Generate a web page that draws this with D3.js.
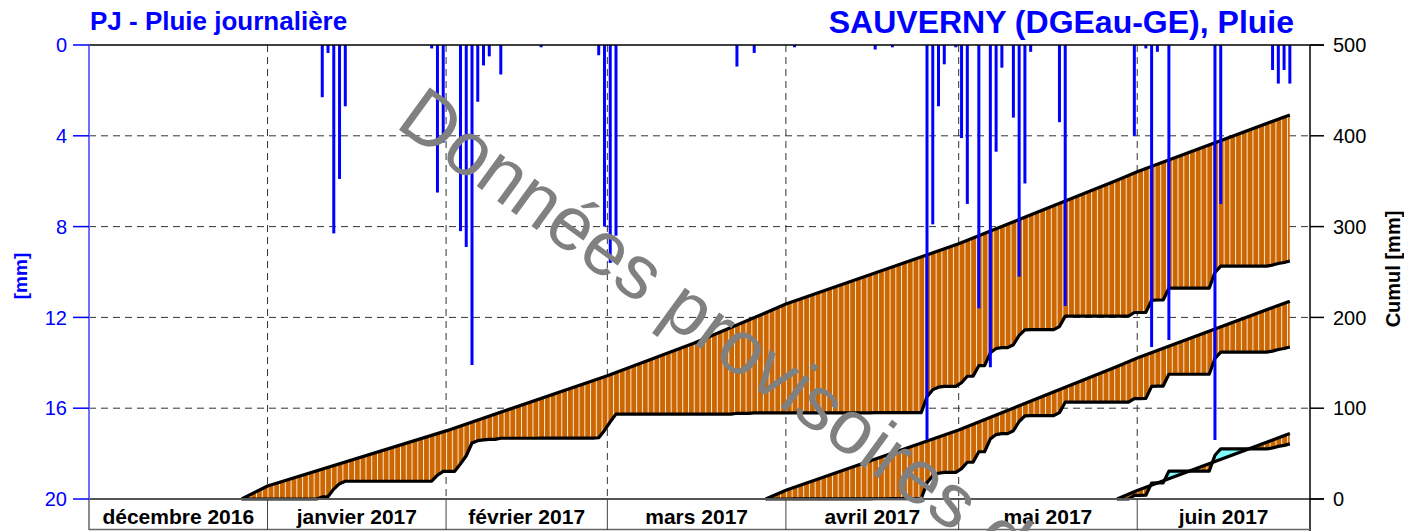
<!DOCTYPE html>
<html>
<head>
<meta charset="utf-8">
<style>
  body { margin: 0; background: #fff; }
  svg { display: block; font-family: "Liberation Sans", Arial, sans-serif; }
  .titre { font-weight: bold; fill: #0000ff; }
  .mois { font-weight: bold; font-size: 21px; fill: #000; }
  .axe-mm { font-size: 20px; fill: #0000ff; }
  .axe-cum { font-size: 20px; fill: #000; }
</style>
</head>
<body>
<div id="chart"></div>
<script src="https://cdn.jsdelivr.net/npm/d3@7"></script>
<script>
const width = 1404, height = 531;
const plot = {left: 89, right: 1310, top: 45, bottom: 499};

// pluie journaliere (mm)
const rainDates = [
  "2017-01-10", "2017-01-11", "2017-01-12", "2017-01-13", "2017-01-14",
  "2017-01-29", "2017-01-30", "2017-01-31",
  "2017-02-03", "2017-02-04", "2017-02-05", "2017-02-06", "2017-02-07", "2017-02-08", "2017-02-10",
  "2017-02-17", "2017-02-27", "2017-02-28", "2017-03-01", "2017-03-02",
  "2017-03-23", "2017-03-26", "2017-04-02", "2017-04-16", "2017-04-19",
  "2017-04-25", "2017-04-26", "2017-04-27", "2017-04-28", "2017-04-30",
  "2017-05-01", "2017-05-02", "2017-05-04", "2017-05-06", "2017-05-07", "2017-05-08",
  "2017-05-10", "2017-05-11", "2017-05-12", "2017-05-13", "2017-05-18", "2017-05-19", "2017-05-31",
  "2017-06-02", "2017-06-03", "2017-06-04", "2017-06-06", "2017-06-14", "2017-06-15",
  "2017-06-24", "2017-06-25", "2017-06-26", "2017-06-27"
];
const rainMm = [
  2.3, 0.35, 8.3, 5.9, 2.7,
  0.15, 6.5, 4.3,
  8.2, 8.9, 14.1, 2.5, 0.9, 0.5, 1.3,
  0.1, 0.45, 8.0, 9.6, 8.4,
  0.95, 0.35, 0.1, 0.2, 0.1,
  17.4, 7.9, 2.7, 0.85, 0.1,
  4.1, 7.0, 11.6, 14.2, 4.7, 1.0,
  3.2, 10.2, 6.1, 0.3, 3.4, 11.5, 4.0,
  0.15, 13.3, 0.3, 13.0, 17.4, 7.0,
  1.1, 1.7, 1.1, 1.7
];

// cumul de la pluie normale (mm), compte depuis le 27.12.2016
const normDates = [
  "2016-12-27T12:00", "2017-01-01T00:00", "2017-02-01T00:00", "2017-03-01T00:00",
  "2017-03-16T00:00", "2017-03-28T12:00", "2017-04-01T00:00", "2017-05-01T00:00",
  "2017-05-28T12:00", "2017-06-01T00:00", "2017-06-27T12:00"
];
const normCumul = [0, 14.3, 75.0, 135.8, 171.5, 205.1, 214.8, 281.0, 351.0, 360.3, 423.0];

// debuts des cumuls (6 mois, 3 mois, 1 mois)
const cumulStarts = ["2016-12-27", "2017-03-28", "2017-05-28"];
const cumulEnd = "2017-06-27";

const monthStarts = ["2016-12-01", "2017-01-01", "2017-02-01", "2017-03-01", "2017-04-01", "2017-05-01", "2017-06-01", "2017-07-01"];
const monthLabels = ["décembre 2016", "janvier 2017", "février 2017", "mars 2017", "avril 2017", "mai 2017", "juin 2017"];
const mmTicks = [0, 4, 8, 12, 16, 20];
const cumTicks = [0, 100, 200, 300, 400, 500];

const day = s => new Date(s + "T12:00:00Z");
const stamp = s => new Date(s + ":00Z");
const midnight = s => new Date(s + "T00:00:00Z");
const fmt = d3.utcFormat("%Y-%m-%d");

const x = d3.scaleUtc()
  .domain([midnight(monthStarts[0]), midnight(monthStarts[monthStarts.length - 1])])
  .range([plot.left, plot.right]);
const yMm = d3.scaleLinear().domain([0, 20]).range([plot.top, plot.bottom]);
const yCum = d3.scaleLinear().domain([0, 500]).range([plot.bottom, plot.top]);

const svg = d3.select("#chart").append("svg")
  .attr("width", width).attr("height", height);
const defs = svg.append("defs");

// hachures journalieres
const dayW = x(midnight("2017-01-02")) - x(midnight("2017-01-01"));
const pat = defs.append("pattern")
  .attr("id", "hatch")
  .attr("patternUnits", "userSpaceOnUse")
  .attr("x", plot.left).attr("y", 0)
  .attr("width", dayW).attr("height", 20);
pat.append("rect").attr("width", dayW).attr("height", 20).attr("fill", "#cc6600");
pat.append("rect").attr("x", 0).attr("width", 1).attr("height", 20).attr("fill", "#fff").attr("opacity", 0.85);

// grille
const grid = svg.append("g").attr("stroke", "#333").attr("stroke-dasharray", "7,5").attr("stroke-width", 1);
grid.selectAll("line.h").data(mmTicks.slice(1, -1)).join("line")
  .attr("x1", plot.left).attr("x2", plot.right)
  .attr("y1", d => yMm(d)).attr("y2", d => yMm(d));
grid.selectAll("line.v").data(monthStarts.slice(1, -1)).join("line")
  .attr("x1", d => x(midnight(d))).attr("x2", d => x(midnight(d)))
  .attr("y1", plot.top).attr("y2", plot.bottom);

// cumuls
const rainByDay = new Map(rainDates.map((d, i) => [d, rainMm[i]]));
const normPts = normDates.map((d, i) => ({t: stamp(d), v: normCumul[i]}));
const line = d3.line().x(d => x(d.t)).y(d => yCum(d.v));
const polyLine = d3.line();

cumulStarts.forEach((s, i) => {
  const t0 = day(s), t1 = day(cumulEnd);
  const actual = [];
  let c = 0;
  for (let t = t0; t <= t1; t = d3.utcDay.offset(t, 1)) {
    if (t > t0) c += rainByDay.get(fmt(t)) || 0;
    actual.push({t: t, v: c});
  }
  const n0 = normPts.find(p => +p.t === +t0).v;
  const ref = normPts.filter(p => p.t >= t0 && p.t <= t1).map(p => ({t: p.t, v: p.v - n0}));

  const actXY = actual.map(d => [x(d.t), yCum(d.v)]);
  const refXY = ref.map(d => [x(d.t), yCum(d.v)]);
  const xs = actXY[0][0], xe = actXY[actXY.length - 1][0];

  defs.append("clipPath").attr("id", "above" + i).append("path")
    .attr("d", polyLine(actXY.concat([[xe, 0], [xs, 0]])) + "Z");
  defs.append("clipPath").attr("id", "below" + i).append("path")
    .attr("d", polyLine(actXY.concat([[xe, height], [xs, height]])) + "Z");

  const poly = polyLine(refXY.concat(actXY.slice().reverse())) + "Z";
  svg.append("path").attr("d", poly).attr("fill", "url(#hatch)").attr("clip-path", `url(#above${i})`);
  svg.append("path").attr("d", poly).attr("fill", "#80ffff").attr("clip-path", `url(#below${i})`);

  svg.append("path").datum(ref).attr("d", line)
    .attr("fill", "none").attr("stroke", "#000").attr("stroke-width", 3.2).attr("stroke-linejoin", "round");
  svg.append("path").datum(actual).attr("d", line)
    .attr("fill", "none").attr("stroke", "#000").attr("stroke-width", 3.2).attr("stroke-linejoin", "round");
});

// pluie journaliere
svg.append("g").selectAll("line").data(rainDates).join("line")
  .attr("x1", d => x(day(d))).attr("x2", d => x(day(d)))
  .attr("y1", plot.top).attr("y2", (d, i) => yMm(rainMm[i]))
  .attr("stroke", "#0000ff").attr("stroke-width", 3);

// cadre et axes
svg.append("line").attr("x1", plot.left).attr("x2", plot.right + 14)
  .attr("y1", plot.top).attr("y2", plot.top).attr("stroke", "#000").attr("stroke-width", 1.5);
svg.append("line").attr("x1", plot.left).attr("x2", plot.right + 14)
  .attr("y1", plot.bottom).attr("y2", plot.bottom).attr("stroke", "#555").attr("stroke-width", 2);
svg.append("line").attr("x1", plot.left).attr("x2", plot.left)
  .attr("y1", plot.top).attr("y2", plot.bottom).attr("stroke", "#6f6fff").attr("stroke-width", 2);
svg.append("line").attr("x1", plot.left).attr("x2", plot.left)
  .attr("y1", plot.bottom).attr("y2", 530).attr("stroke", "#666").attr("stroke-width", 1.5);
svg.append("line").attr("x1", plot.right).attr("x2", plot.right)
  .attr("y1", plot.top).attr("y2", 531).attr("stroke", "#000").attr("stroke-width", 1.5);
svg.append("line").attr("x1", plot.left).attr("x2", plot.right)
  .attr("y1", 529.5).attr("y2", 529.5).attr("stroke", "#666").attr("stroke-width", 1.5);

// axe gauche (mm)
const axL = svg.append("g");
axL.selectAll("line").data(mmTicks).join("line")
  .attr("x1", 73).attr("x2", plot.left).attr("y1", d => yMm(d)).attr("y2", d => yMm(d))
  .attr("stroke", "#0000ff").attr("stroke-width", 1.5);
axL.selectAll("text").data(mmTicks).join("text")
  .attr("class", "axe-mm").attr("x", 67).attr("y", d => yMm(d)).attr("dy", "0.36em")
  .attr("text-anchor", "end").text(d => d);

// axe droit (cumul)
const axR = svg.append("g");
axR.selectAll("line").data(cumTicks).join("line")
  .attr("x1", plot.right).attr("x2", plot.right + 14).attr("y1", d => yCum(d)).attr("y2", d => yCum(d))
  .attr("stroke", "#000").attr("stroke-width", 1.5);
axR.selectAll("text").data(cumTicks).join("text")
  .attr("class", "axe-cum").attr("x", 1333).attr("y", d => yCum(d)).attr("dy", "0.36em")
  .text(d => d);

// mois
const mg = svg.append("g");
mg.selectAll("line").data(monthStarts.slice(1, -1)).join("line")
  .attr("x1", d => x(midnight(d))).attr("x2", d => x(midnight(d)))
  .attr("y1", plot.bottom).attr("y2", 530).attr("stroke", "#444").attr("stroke-width", 1);
mg.selectAll("text").data(monthLabels).join("text")
  .attr("class", "mois").attr("text-anchor", "middle")
  .attr("x", (d, i) => (x(midnight(monthStarts[i])) + x(midnight(monthStarts[i + 1]))) / 2)
  .attr("y", 524).text(d => d);

// titres
svg.append("text").attr("class", "titre").attr("x", 90).attr("y", 30)
  .style("font-size", "26px").text("PJ - Pluie journalière");
svg.append("text").attr("class", "titre").attr("x", 1294).attr("y", 33).attr("text-anchor", "end")
  .style("font-size", "32px").text("SAUVERNY (DGEau-GE), Pluie");
svg.append("text").attr("transform", "translate(27,276) rotate(-90)").attr("text-anchor", "middle")
  .style("font-size", "19px").style("font-weight", "bold").attr("fill", "#0000ff").text("[mm]");
svg.append("text").attr("transform", "translate(1400,269) rotate(-90)").attr("text-anchor", "middle")
  .style("font-size", "20px").style("font-weight", "bold").attr("fill", "#000").text("Cumul [mm]");

// filigrane
svg.append("text").attr("transform", "translate(394,126) rotate(36)")
  .style("font-size", "76px").attr("fill", "#808080").text("Données provisoires de");
</script>
</body>
</html>
